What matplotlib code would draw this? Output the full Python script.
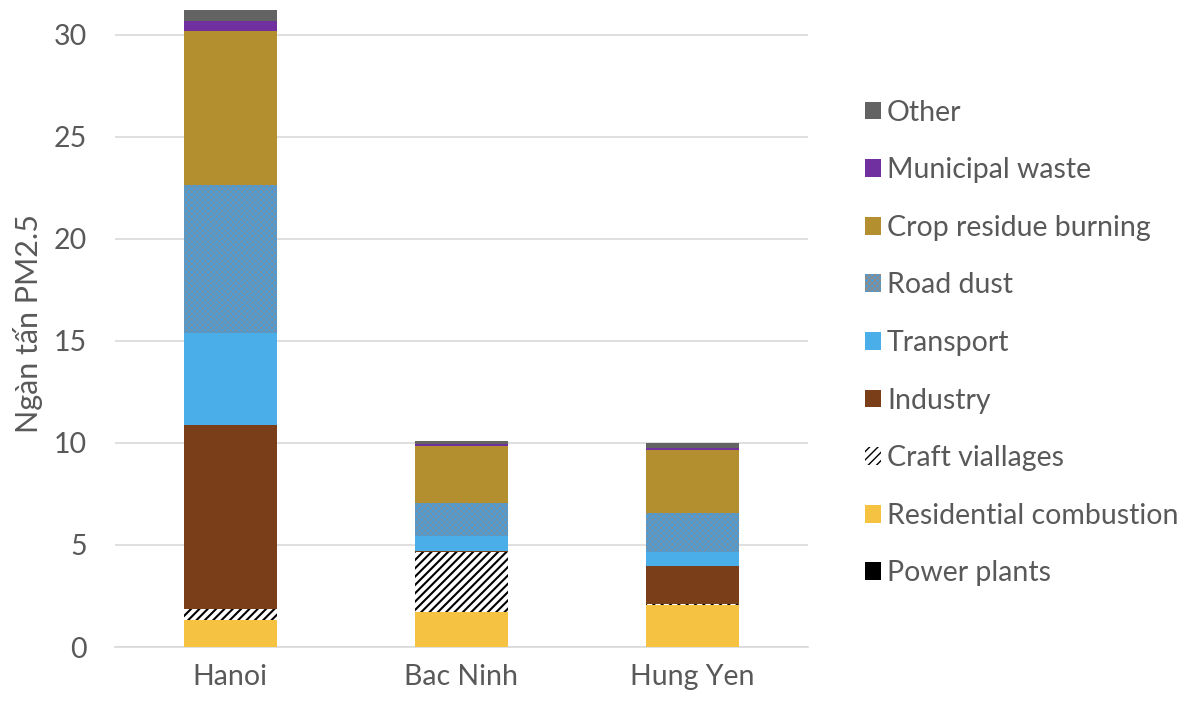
import matplotlib
matplotlib.use("Agg")
import matplotlib.pyplot as plt
import numpy as np

plt.rcParams['font.family'] = ['Lato', 'Open Sans', 'DejaVu Sans']

# Data (thousand tonnes PM2.5)
cities = ["Hanoi", "Bac Ninh", "Hung Yen"]
sources = ["Power plants", "Residential combustion", "Craft viallages", "Industry",
           "Transport", "Road dust", "Crop residue burning", "Municipal waste", "Other"]
power_plants = [0.02, 0.02, 0.02]
residential = [1.30, 1.71, 2.04]
craft = [0.53, 2.91, 0.05]
industry = [9.03, 0.08, 1.86]
transport = [4.51, 0.72, 0.67]
road_dust = [7.26, 1.60, 1.94]
crop_burning = [7.51, 2.81, 3.08]
municipal = [0.53, 0.08, 0.08]
other = [0.51, 0.15, 0.24]

series = [power_plants, residential, craft, industry, transport,
          road_dust, crop_burning, municipal, other]
colors = ["#000000", "#f5c242", "#ffffff", "#7a3e18", "#4aaee8",
          "#4d9cd6", "#b48f30", "#7030a0", "#636363"]
hatches = [None, None, "////", None, None, "xxxxxx", None, None, None]
hatch_colors = [None, None, "#000000", None, None, "#8a8c8c", None, None, None]
hatch_lw = [1.0, 1.0, 1.5, 1.0, 1.0, 0.4, 1.0, 1.0, 1.0]

fig = plt.figure(figsize=(11.83, 7.01), dpi=100)
ax = fig.add_axes([0.097, 0.077, 0.586, 0.923])

x = np.arange(len(cities))
bottom = np.zeros(len(cities))
handles = []
for vals, name, c, h, hc, hl in zip(series, sources, colors, hatches, hatch_colors, hatch_lw):
    with plt.rc_context({'hatch.linewidth': hl}):
        bars = ax.bar(x, vals, 0.4, bottom=bottom, color=c, label=name,
                      hatch=h, edgecolor=hc if hc else c, linewidth=0, zorder=3)
    handles.append(bars)
    bottom += np.array(vals)

ax.set_xlim(-0.5, 2.5)
ax.set_ylim(0, 31.7)
ax.set_yticks([0, 5, 10, 15, 20, 25, 30])
ax.set_xticks(x)
ax.set_xticklabels(cities)
ax.yaxis.grid(True, color="#d9d9d9", linewidth=1.2, zorder=0)
ax.set_axisbelow(True)
for s in ["top", "right", "left"]:
    ax.spines[s].set_visible(False)
ax.spines["bottom"].set_color("#d9d9d9")
ax.spines["bottom"].set_linewidth(1.2)
ax.tick_params(axis="both", length=0, labelsize=20.5, colors="#595959")
ax.tick_params(axis="y", pad=20)
ax.tick_params(axis="x", pad=12)
ax.set_ylabel("Ngàn tấn PM2.5", fontsize=22, color="#595959", labelpad=8)

leg = ax.legend(handles[::-1], sources[::-1], loc="center left",
                bbox_to_anchor=(1.045, 0.47), frameon=False, fontsize=20.5,
                labelcolor="#595959", handlelength=0.58, handleheight=0.58,
                handletextpad=0.2, labelspacing=1.11)

fig.savefig("out.png", dpi=100)
